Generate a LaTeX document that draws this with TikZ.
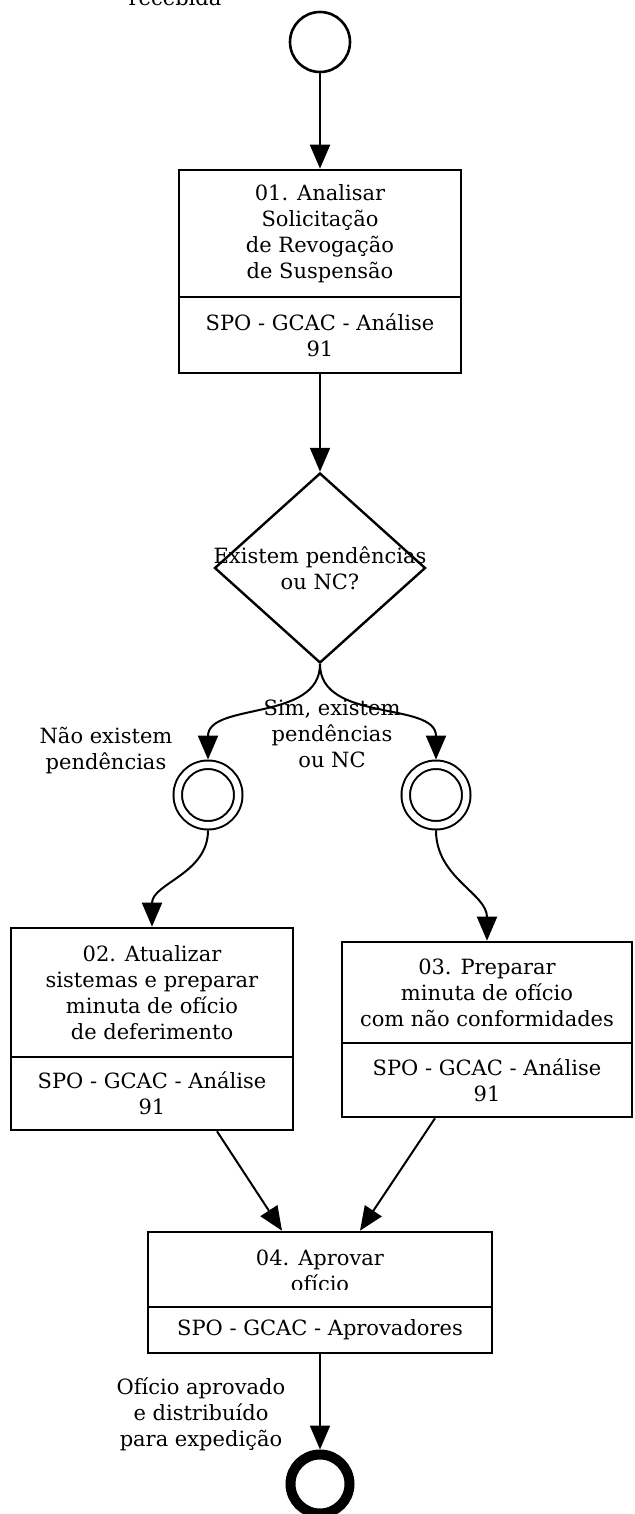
\documentclass[tikz,border=0pt]{standalone}
\usepackage{fontspec}
\setmainfont{DejaVu Serif}
\usetikzlibrary{arrows.meta,positioning,shapes.geometric}

\begin{document}
\begin{tikzpicture}[
    x=0.5pt, y=-0.5pt,
    font=\fontsize{10.5}{13}\selectfont,
    >={Triangle[length=12pt, width=10pt]},
    tarefa/.style={draw, line width=1.3pt, align=center, inner sep=0pt},
    evento/.style={circle, draw, line width=1.3pt, minimum size=30pt, inner sep=0pt},
    intermed/.style={circle, draw, line width=1pt, double, double distance=3.25pt,
        minimum size=30.25pt, inner sep=0pt, outer sep=2.6pt},
    fim/.style={circle, draw, line width=5pt, minimum size=29.5pt, inner sep=0pt},
    decisao/.style={diamond, draw, line width=1.2pt, minimum width=105.5pt,
        minimum height=95pt, inner sep=0pt},
    fluxo/.style={->, line width=1pt},
    lbl/.style={align=center, inner sep=0pt}
]
    \path[use as bounding box, fill=white] (0,0) rectangle (634,1514);

    % inicio
    \node[evento] (S) at (320,42) {};
    \node[lbl, anchor=base] (Srot) at (175,6) {recebida};

    % 01
    \node[tarefa, minimum width=141pt, minimum height=63.5pt] (T1) at (320,233.5)
        {01. Analisar\\Solicitação\\de Revogação\\de Suspensão};
    \node[tarefa, minimum width=141pt, minimum height=38pt] (R1) at (320,335)
        {SPO - GCAC - Análise\\91};

    % decisao
    \node[decisao, label={[lbl]center:Existem pendências\\ou NC?}] (D) at (320,568) {};
    \node[intermed] (I1) at (208,795) {};
    \node[intermed] (I2) at (436,795) {};
    \node[lbl] (L1) at (106,751) {Não existem\\pendências};
    \node[lbl] (L2) at (332,734) {Sim, existem\\pendências\\ou NC};

    % 02 e 03
    \node[tarefa, minimum width=141pt, minimum height=64.5pt] (T2) at (152,992.5)
        {02. Atualizar\\sistemas e preparar\\minuta de ofício\\de deferimento};
    \node[tarefa, minimum width=141pt, minimum height=36.5pt] (R2) at (152,1093.5)
        {SPO - GCAC - Análise\\91};
    \node[tarefa, minimum width=145pt, minimum height=50.5pt] (T3) at (487,992.5)
        {03. Preparar\\minuta de ofício\\com não conformidades};
    \node[tarefa, minimum width=145pt, minimum height=37pt] (R3) at (487,1080)
        {SPO - GCAC - Análise\\91};

    % 04
    \node[tarefa, minimum width=172pt, minimum height=37.5pt,
        path picture={
            \clip (path picture bounding box.north west) rectangle
                ([yshift=9pt]path picture bounding box.south east);
            \node[lbl] at ([yshift=-0.75pt]path picture bounding box.center)
                {04. Aprovar\\ofício};
        }] (T4) at (320,1269.5) {};
    \node[tarefa, minimum width=172pt, minimum height=23pt] (R4) at (320,1330)
        {SPO - GCAC - Aprovadores};

    % fim
    \node[fim] (E) at (320,1484) {};
    \node[lbl] (L3) at (201,1414) {Ofício aprovado\\e distribuído\\para expedição};

    \draw[fluxo] (S) -- (T1);
    \draw[fluxo] (R1) -- (D);
    \draw[fluxo] (D.south) to[out=-90, in=90] (I1.north);
    \draw[fluxo] (D.south) to[out=-90, in=90] (I2.north);
    \draw[fluxo] (I1.south) to[out=-90, in=90] (T2.north);
    \draw[fluxo] (I2.south) to[out=-90, in=90] (T3.north);
    \draw[fluxo] ([xshift=32.5pt]R2.south) -- ([xshift=-19pt]T4.north);
    \draw[fluxo] ([xshift=-26pt]R3.south) -- ([xshift=20pt]T4.north);
    \draw[fluxo] (R4) -- (E);
\end{tikzpicture}
\end{document}
